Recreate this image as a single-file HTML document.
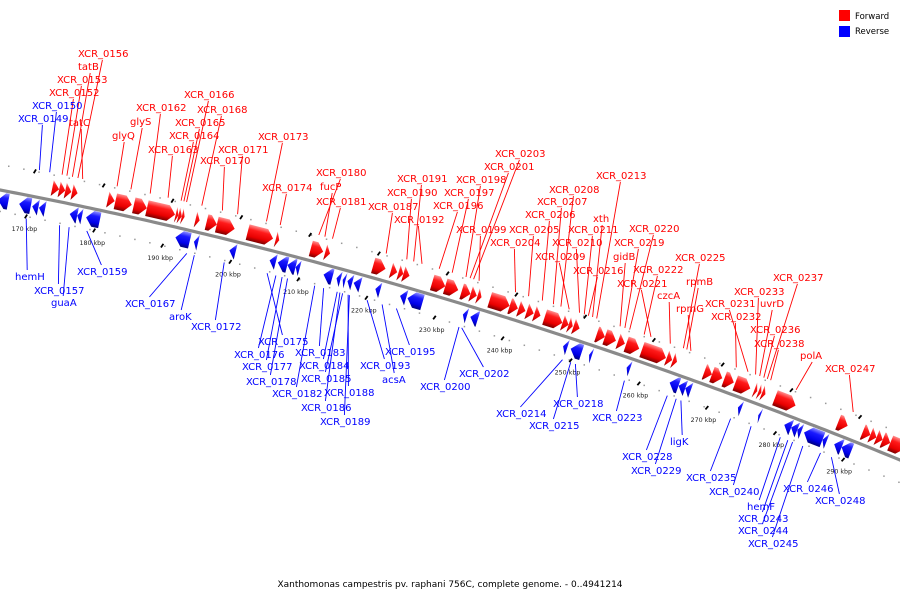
<!DOCTYPE html>
<html><head><meta charset="utf-8">
<style>
html,body{margin:0;padding:0;background:#fff;width:900px;height:600px;overflow:hidden}
svg{display:block}
text{font-family:"DejaVu Sans","Liberation Sans",sans-serif}
</style></head>
<body>
<svg id="chart" width="900" height="600" xmlns="http://www.w3.org/2000/svg">
<defs>
<linearGradient id="gRed" x1="0" y1="0" x2="0" y2="1">
<stop offset="0" stop-color="#ff9090"/><stop offset="0.3" stop-color="#ff1a1a"/><stop offset="0.72" stop-color="#e80000"/><stop offset="1" stop-color="#7a0000"/></linearGradient>
<linearGradient id="gBlue" x1="0" y1="0" x2="0" y2="1">
<stop offset="0" stop-color="#9090ff"/><stop offset="0.3" stop-color="#1a1aff"/><stop offset="0.72" stop-color="#0000e8"/><stop offset="1" stop-color="#00007a"/></linearGradient>
</defs>
<g id="ring"></g>
<path id="backbone" fill="none" stroke="#8a8a8a" stroke-width="3.2"/>
<g id="genes"></g>
<g id="labels"></g>
<g>
<rect x="839" y="10" width="11" height="11" fill="#ff0000"/>
<text x="855" y="19" font-size="8.5" fill="#000">Forward</text>
<rect x="839" y="26" width="11" height="11" fill="#0000ff"/>
<text x="855" y="34" font-size="8.5" fill="#000">Reverse</text>
</g>
<text x="450" y="587" font-size="9" text-anchor="middle" fill="#000">Xanthomonas campestris pv. raphani 756C, complete genome. - 0..4941214</text>
</svg>
<script>
// ---- data (kbp) ----
const fwdStart=[172.9,173.9,174.8,175.8,181.0,182.1,184.8,186.7,190.9,191.3,191.8,193.8,195.4,196.9,201.4,205.5,210.6,212.7,219.7,222.3,223.4,224.1,228.3,230.2,232.6,233.9,234.9,236.7,239.6,240.9,242.1,243.2,244.7,247.3,248.2,248.9,252.3,253.5,255.4,256.6,258.9,262.5,263.4,268.0,269.1,270.9,272.5,275.3,275.9,276.4,278.3,287.5,291.1,292.2,293.1,294.0,295.1];
const fwdEnd=[173.9,174.8,175.7,176.6,182.0,184.5,186.7,190.8,191.3,191.8,192.2,194.4,196.9,199.5,205.1,206.0,212.4,213.4,221.5,223.2,224.1,225.0,230.2,232.1,233.9,234.8,235.5,239.6,240.8,241.9,243.1,244.1,247.3,248.2,248.8,249.8,253.5,255.1,256.4,258.5,262.4,263.3,264.0,269.1,270.6,272.3,274.7,275.7,276.3,276.9,281.3,288.9,292.2,293.1,294.0,295.1,297.2];
const revStart=[165.6,168.7,170.6,171.6,176.1,177.2,178.5,191.6,194.3,199.5,205.4,206.6,208.0,209.2,213.3,215.2,216.1,216.8,217.7,220.9,224.5,225.6,233.7,234.8,248.4,249.5,252.2,257.7,264.0,265.3,266.3,274.0,277.0,280.8,281.8,282.7,283.7,286.4,288.1,289.2];
const revEnd=[167.1,170.4,171.5,172.5,177.2,177.9,180.5,193.7,194.9,200.4,206.3,208.0,209.2,209.8,214.6,215.8,216.5,217.5,218.7,221.6,225.4,227.8,234.3,235.9,249.0,251.1,252.6,258.2,265.3,266.3,267.1,274.5,277.3,281.8,282.7,283.3,286.4,287.0,289.2,290.6];
const tickKb=[170,180,190,200,210,220,230,240,250,260,270,280,290];
const tickLabels=["170 kbp","180 kbp","190 kbp","200 kbp","210 kbp","220 kbp","230 kbp","240 kbp","250 kbp","260 kbp","270 kbp","280 kbp","290 kbp"];
const labelNames=["XCR_0156","tatB","XCR_0153","XCR_0152","tatC","XCR_0150","XCR_0149","XCR_0162","glyS","glyQ","XCR_0163","XCR_0166","XCR_0168","XCR_0165","XCR_0164","XCR_0171","XCR_0170","XCR_0173","XCR_0174","XCR_0180","fucP","XCR_0181","XCR_0191","XCR_0190","XCR_0187","XCR_0192","XCR_0203","XCR_0201","XCR_0198","XCR_0197","XCR_0196","XCR_0199","XCR_0204","XCR_0205","XCR_0206","XCR_0207","XCR_0208","XCR_0213","xth","XCR_0211","XCR_0210","XCR_0209","XCR_0216","XCR_0220","XCR_0219","gidB","XCR_0222","XCR_0221","czcA","XCR_0225","rpmB","rpmG","XCR_0237","XCR_0233","uvrD","XCR_0231","XCR_0232","XCR_0236","XCR_0238","polA","XCR_0247",
"hemH","XCR_0157","guaA","XCR_0159","XCR_0167","aroK","XCR_0172","XCR_0175","XCR_0176","XCR_0177","XCR_0178","XCR_0182","XCR_0186","XCR_0189","XCR_0183","XCR_0184","XCR_0185","XCR_0188","XCR_0193","XCR_0195","acsA","XCR_0200","XCR_0202","XCR_0214","XCR_0215","XCR_0218","XCR_0223","XCR_0228","XCR_0229","ligK","XCR_0235","XCR_0240","hemF","XCR_0243","XCR_0244","XCR_0245","XCR_0246","XCR_0248"];
const labelStrand=["f","f","f","f","f","r","r","f","f","f","f","f","f","f","f","f","f","f","f","f","f","f","f","f","f","f","f","f","f","f","f","f","f","f","f","f","f","f","f","f","f","f","f","f","f","f","f","f","f","f","f","f","f","f","f","f","f","f","f","f","f",
"r","r","r","r","r","r","r","r","r","r","r","r","r","r","r","r","r","r","r","r","r","r","r","r","r","r","r","r","r","r","r","r","r","r","r","r","r","r"];
const labelTargetKb=[176.2,175.4,174.6,173.9,176.9,172.1,170.6,186.7,183.9,181.9,189.3,192.0,194.2,191.6,191.2,199.4,197.2,203.6,205.6,211.2,212.1,213.2,225.0,224.0,221.0,226.2,233.7,233.2,232.6,230.6,228.7,234.5,239.8,241.7,243.7,245.3,246.4,251.6,251.0,249.8,249.1,247.6,250.4,256.4,255.7,255.0,258.5,259.5,262.3,264.2,264.7,265.3,276.4,274.7,275.3,273.6,271.9,275.9,276.9,280.6,288.9,
170.1,175.0,176.4,179.0,193.7,194.8,199.2,205.5,206.8,207.7,208.5,212.5,216.2,217.6,213.8,215.8,216.6,217.4,220.2,224.5,222.4,233.7,234.1,248.9,250.1,250.8,258.0,264.3,265.6,266.3,273.6,276.6,280.9,282.0,282.7,284.2,286.8,288.4];
// label placement (layout, left x / baseline y)
const labelLeft=[78,78,57,49,69,32,18,136,130,112,148,184,197,175,169,218,200,258,262,316,320,316,397,387,368,394,495,484,456,444,433,456,490,509,525,537,549,596,593,568,552,535,573,629,614,613,633,617,657,675,686,676,773,734,760,705,711,750,754,800,825,
15,34,51,77,125,169,191,258,234,242,246,272,301,320,295,299,301,324,360,385,382,420,459,496,529,553,592,622,631,670,686,709,747,738,738,748,783,815];
const labelBase=[57,70,83,96,126,109,122,111,125,139,153,98,113,126,139,153,164,140,191,176,190,205,182,196,210,223,157,170,183,196,209,233,246,233,218,205,193,179,222,233,246,260,274,232,246,260,273,287,299,261,285,312,281,295,307,307,320,333,347,359,372,
280,294,306,275,307,320,330,345,358,370,385,397,411,425,356,369,382,396,369,355,383,390,377,417,429,407,421,460,474,445,481,495,510,522,534,547,492,504];

// ---- axes ----
const kbX = kb => 30 + (kb - 170) * 6.84;
const curveY = x => 190 + 0.19 * x + 0.0001222 * x * x;
const slope = x => 0.19 + 0.0002444 * x;
const ang = x => Math.atan(slope(x)) * 180 / Math.PI;
const NS='http://www.w3.org/2000/svg';
function mk(tag,attrs,parent){const e=document.createElementNS(NS,tag);for(const k in attrs)e.setAttribute(k,attrs[k]);parent.appendChild(e);return e;}
function perp(x,v){const a=Math.atan(slope(x));return [x - v*Math.sin(a), curveY(x) + v*Math.cos(a)];}

// backbone
let d='';for(let x=-5;x<=905;x+=5){d+=(x===-5?'M':'L')+x+','+curveY(x).toFixed(2)+' ';}
document.getElementById('backbone').setAttribute('d',d);

// ring dots & ticks
const ring=document.getElementById('ring');
for(let kb=164;kb<=300;kb+=2.2){
  const x=kbX(kb);
  [-25,21].forEach(v=>{const p=perp(x,v);const c=mk('rect',{x:p[0]-0.7,y:p[1]-0.7,width:1.5,height:1.5,fill:'#999'},ring);
  
  });
}
tickKb.forEach((kb,i)=>{
  const x=kbX(kb);
  [-25,21].forEach(v=>{const p=perp(x,v);
    const t=mk('rect',{x:-0.8,y:-2.2,width:1.8,height:4.4,fill:'#000',transform:`translate(${p[0].toFixed(1)},${p[1].toFixed(1)}) rotate(${(ang(x)+20).toFixed(1)})`},ring);
    
    });
  const p=perp(x,34);
  const tl=mk('text',{x:(p[0]+1).toFixed(1),y:(p[1]+2).toFixed(1),'font-size':'6.3','text-anchor':'middle',fill:'#222','font-family':'Liberation Serif, serif'},ring);
  tl.textContent=tickLabels[i];
  
  
});

// genes
const genes=document.getElementById('genes');
function drawGene(s,e,fwd,i){
  const x0=kbX(s),x1=kbX(e),xc=(x0+x1)/2;
  const L=(x1-x0)*Math.sqrt(1+slope(xc)*slope(xc));
  const v0=fwd?-20:2,v1=fwd?-4:18,vm=(v0+v1)/2;
  const h=Math.min(L,7);const u0=-L/2,u1=L/2;
  let pts;
  if(fwd){pts=L<=7?[[u0,v0],[u1,vm],[u0,v1]]:[[u0,v0],[u1-h,v0],[u1,vm],[u1-h,v1],[u0,v1]];}
  else{pts=L<=7?[[u1,v0],[u0,vm],[u1,v1]]:[[u1,v0],[u0+h,v0],[u0,vm],[u0+h,v1],[u1,v1]];}
  const p=perp(xc,0);
  const g=mk('polygon',{points:pts.map(q=>q[0].toFixed(1)+','+q[1]).join(' '),fill:fwd?'url(#gRed)':'url(#gBlue)',transform:`translate(${p[0].toFixed(1)},${p[1].toFixed(1)}) rotate(${ang(xc).toFixed(2)})`},genes);
  
  
}
fwdStart.forEach((s,i)=>drawGene(s,fwdEnd[i],true,i));
revStart.forEach((s,i)=>drawGene(s,revEnd[i],false,i));

// labels
const labels=document.getElementById('labels');
labelNames.forEach((n,i)=>{
  const fwd=labelStrand[i]==='f';
  const above=labelBase[i] < curveY(labelLeft[i]+25);
  const col=fwd?'#ff0000':'#0000ff';
  const w=n.length*6.1;
  const x=kbX(labelTargetKb[i]);
  const tp=perp(x,above?-27:23);
  const sx=labelLeft[i]+w*0.5, sy=above?labelBase[i]+3:labelBase[i]-10;
  const ln=mk('line',{x1:sx,y1:sy,x2:tp[0].toFixed(1),y2:tp[1].toFixed(1),stroke:col,'stroke-width':'0.9'},labels);
  
  
  const t=mk('text',{x:labelLeft[i],y:labelBase[i],'font-size':'10','fill':col},labels);
  t.textContent=n;
  
  
});
</script>
</body></html>
